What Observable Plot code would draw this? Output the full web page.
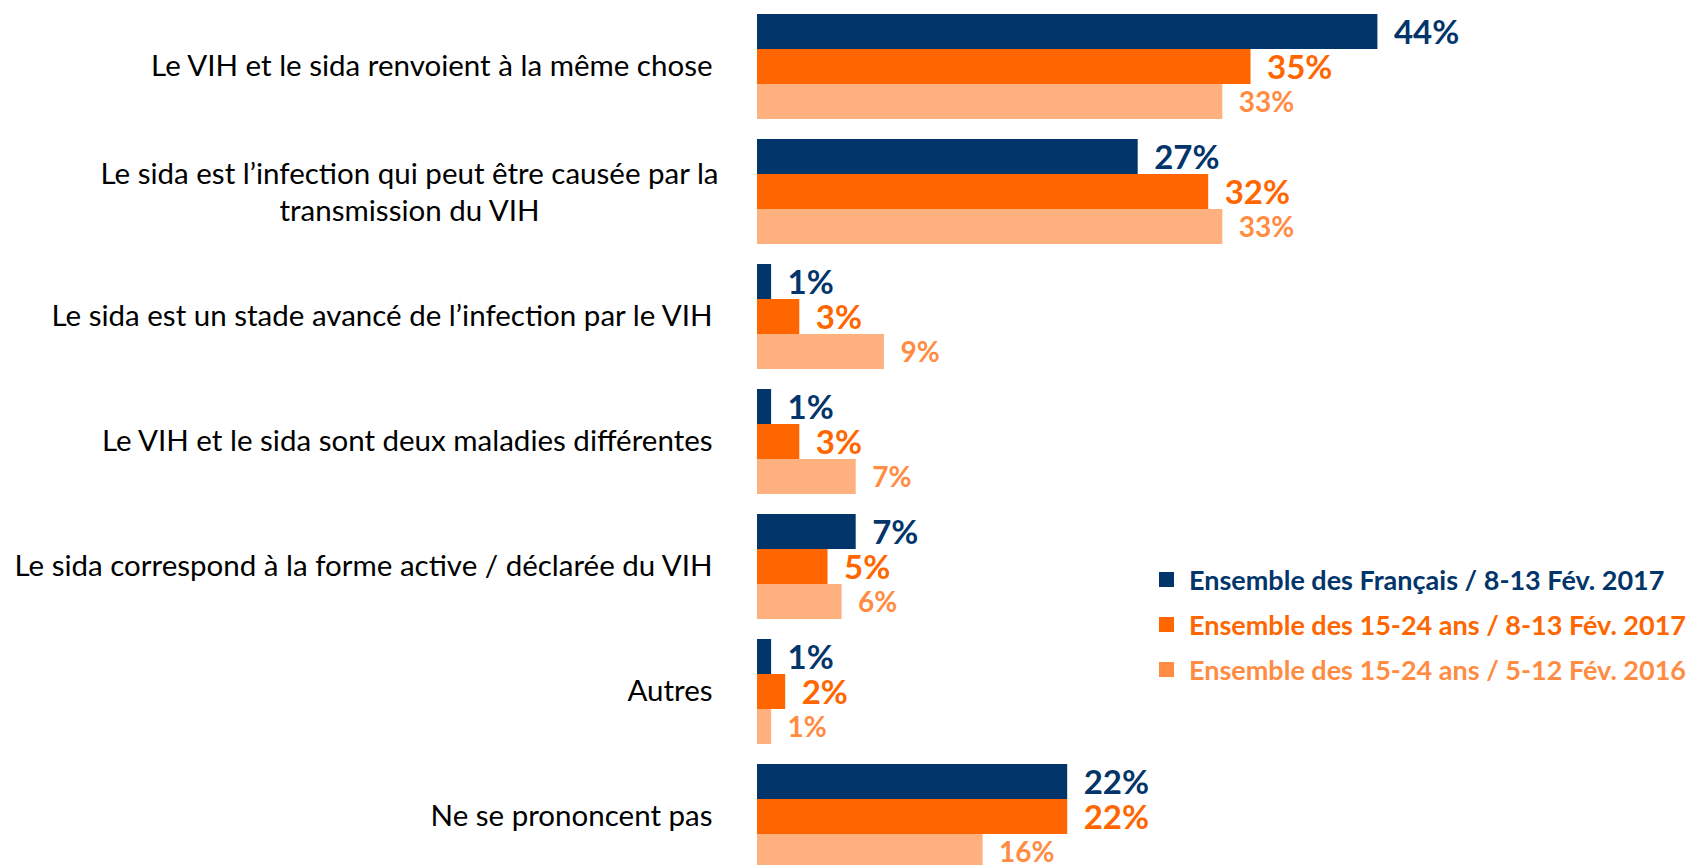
<!DOCTYPE html>
<html>
<head>
<meta charset="utf-8">
<script src="https://cdn.jsdelivr.net/npm/d3@7"></script>
<script src="https://cdn.jsdelivr.net/npm/@observablehq/plot@0.6"></script>
<style>
  html, body { margin: 0; padding: 0; background: #fff; overflow: hidden; }
  #wrap { position: relative; width: 1686px; height: 865px; }
  #legend { position: absolute; left: 1159px; top: 557px; font-family: Lato, sans-serif; font-weight: 700; font-size: 27px; }
  #legend .row { display: flex; align-items: center; height: 45.2px; white-space: nowrap; }
  #legend .sw { width: 15px; height: 15px; margin-right: 15px; flex: none; }
</style>
</head>
<body>
<div id="wrap"><div id="chart"></div><div id="legend"></div></div>
<script>
const categories = [
  "Le VIH et le sida renvoient à la même chose",
  "Le sida est l’infection qui peut être causée par la\ntransmission du VIH",
  "Le sida est un stade avancé de l’infection par le VIH",
  "Le VIH et le sida sont deux maladies différentes",
  "Le sida correspond à la forme active / déclarée du VIH",
  "Autres",
  "Ne se prononcent pas"
];
const seriesNames = [
  "Ensemble des Français / 8-13 Fév. 2017",
  "Ensemble des 15-24 ans / 8-13 Fév. 2017",
  "Ensemble des 15-24 ans / 5-12 Fév. 2016"
];
const francais2017 = [44, 27, 1, 1, 7, 1, 22];
const jeunes2017 = [35, 32, 3, 3, 5, 2, 22];
const jeunes2016 = [33, 33, 9, 7, 6, 1, 16];

const barColors = ["#02356A", "#FF6600", "#FFB07F"];
const labelColors = ["#02356A", "#FF6600", "#FF8C42"];
const legendColors = ["#02356A", "#FF6600", "#FF8C42"];

const seriesValues = [francais2017, jeunes2017, jeunes2016];
const rows = [];
categories.forEach((c, i) => {
  seriesNames.forEach((s, j) => rows.push({category: c, series: s, si: j, value: seriesValues[j][i]}));
});

const valueMark = (j, size) => Plot.text(rows.filter(d => d.si === j), {
  x: "value", y: "series", fy: "category",
  text: d => d.value + "%",
  textAnchor: "start", dx: 16, dy: 1,
  fill: labelColors[j], fontWeight: 700, fontSize: size
});

const multi = categories.filter(c => c.includes("\n"));
const single = categories.filter(c => !c.includes("\n"));

const chart = Plot.plot({
  width: 1686,
  height: 880,
  marginLeft: 757,
  marginRight: 83,
  marginTop: 12,
  marginBottom: 9,
  style: {fontFamily: "Lato, sans-serif", background: "white"},
  x: {domain: [0, 60], axis: null},
  y: {domain: seriesNames, padding: 0, axis: null},
  fy: {domain: categories, paddingInner: 0.142, paddingOuter: 0, axis: null},
  color: {domain: seriesNames, range: barColors},
  marks: [
    Plot.barX(rows, {x: "value", y: "series", fy: "category", fill: "series"}),
    valueMark(0, 33),
    valueMark(1, 33),
    valueMark(2, 28),
    Plot.text(single, {fy: d => d, text: d => d, frameAnchor: "left", textAnchor: "end", dx: -45, fontSize: 29.5, fill: "#000"}),
    Plot.text(multi, {fy: d => d, text: d => d, frameAnchor: "left", textAnchor: "middle", dx: -348, dy: -1, lineHeight: 1.24, fontSize: 29.5, fill: "#000"})
  ]
});
document.getElementById("chart").appendChild(chart);

const legend = document.getElementById("legend");
seriesNames.forEach((s, j) => {
  const row = document.createElement("div");
  row.className = "row";
  const sw = document.createElement("div");
  sw.className = "sw";
  sw.style.background = legendColors[j];
  const t = document.createElement("span");
  t.textContent = s;
  t.style.color = legendColors[j];
  row.appendChild(sw);
  row.appendChild(t);
  legend.appendChild(row);
});
</script>
</body>
</html>
